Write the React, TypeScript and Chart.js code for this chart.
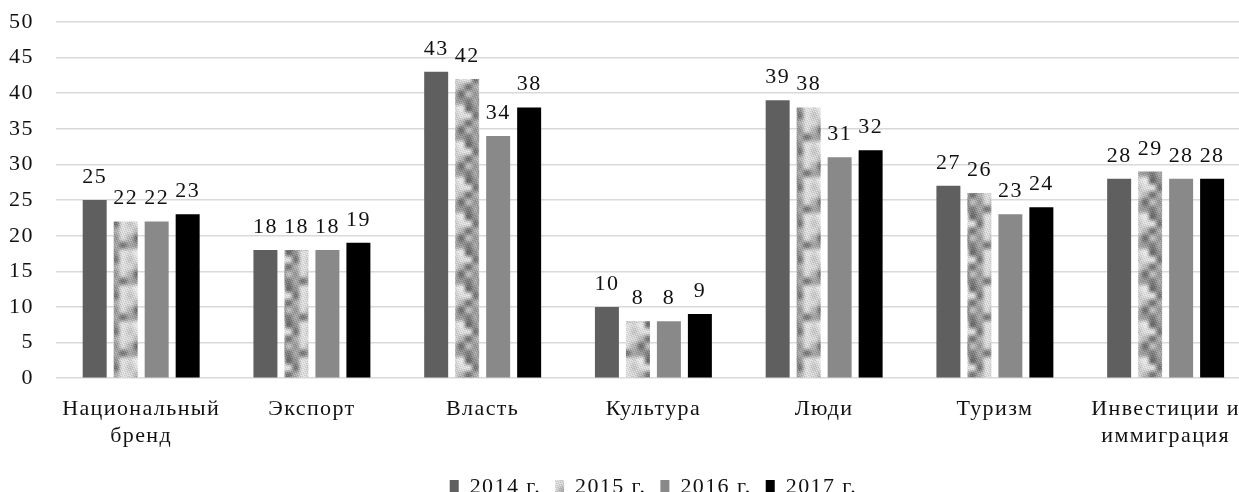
import React, { useEffect, useRef } from "react";
import { Chart, registerables } from "chart.js";

Chart.register(...registerables);

const categories: (string | string[])[] = [
  ["Национальный", "бренд"],
  "Экспорт",
  "Власть",
  "Культура",
  "Люди",
  "Туризм",
  ["Инвестиции и", "иммиграция"],
];
const seriesNames = ["2014 г.", "2015 г.", "2016 г.", "2017 г."];
const values2014 = [25, 18, 43, 10, 39, 27, 28];
const values2015 = [22, 18, 42, 8, 38, 26, 29];
const values2016 = [22, 18, 34, 8, 31, 23, 28];
const values2017 = [23, 19, 38, 9, 32, 24, 28];
const yTicks = [0, 5, 10, 15, 20, 25, 30, 35, 40, 45, 50];

const FONT = "'Liberation Serif', 'Times New Roman', serif";
const TEXT = "#111111";
const SPACING = "1.4px";

function makeTexture(): CanvasPattern | string {
  const size = 36;
  const c = document.createElement("canvas");
  c.width = size;
  c.height = size;
  const ctx = c.getContext("2d");
  if (!ctx) return "#bdbdbd";
  const cells = 5;
  const h = (x: number, y: number) => {
    const xx = ((x % cells) + cells) % cells;
    const yy = ((y % cells) + cells) % cells;
    const s = Math.sin(xx * 127.1 + yy * 311.7) * 43758.5453;
    return s - Math.floor(s);
  };
  const img = ctx.createImageData(size, size);
  for (let y = 0; y < size; y++) {
    for (let x = 0; x < size; x++) {
      const fx = (x / size) * cells;
      const fy = (y / size) * cells;
      const x0 = Math.floor(fx);
      const y0 = Math.floor(fy);
      const tx = fx - x0;
      const ty = fy - y0;
      const sx = tx * tx * (3 - 2 * tx);
      const sy = ty * ty * (3 - 2 * ty);
      const a = h(x0, y0) * (1 - sx) + h(x0 + 1, y0) * sx;
      const b = h(x0, y0 + 1) * (1 - sx) + h(x0 + 1, y0 + 1) * sx;
      let v = a * (1 - sy) + b * sy;
      const fine = Math.sin(x * 1.3 + y * 2.1) * Math.cos(x * 2.2 - y * 0.9);
      v = v * 0.75 + (fine * 0.5 + 0.5) * 0.25;
      v = Math.min(1, Math.max(0, (v - 0.5) * 1.6 + 0.55));
      const g = Math.round(105 + v * 130);
      const i = (y * size + x) * 4;
      img.data[i] = g;
      img.data[i + 1] = g;
      img.data[i + 2] = g;
      img.data[i + 3] = 255;
    }
  }
  ctx.putImageData(img, 0, 0);
  const p = ctx.createPattern(c, "repeat");
  return p || "#bdbdbd";
}

const spacingPlugin = {
  id: "spacing",
  beforeUpdate(chart: any) {
    (chart.ctx as any).letterSpacing = SPACING;
  },
  beforeLayout(chart: any) {
    (chart.ctx as any).letterSpacing = SPACING;
  },
  beforeDraw(chart: any) {
    (chart.ctx as any).letterSpacing = SPACING;
  },
};

const valueLabels = {
  id: "valueLabels",
  afterDatasetsDraw(chart: any) {
    const ctx = chart.ctx;
    ctx.save();
    ctx.font = `22px ${FONT}`;
    ctx.fillStyle = TEXT;
    ctx.textAlign = "center";
    ctx.textBaseline = "alphabetic";
    chart.data.datasets.forEach((ds: any, di: number) => {
      const meta = chart.getDatasetMeta(di);
      meta.data.forEach((bar: any, i: number) => {
        ctx.fillText(String(ds.data[i]), bar.x, bar.y - 17);
      });
    });
    ctx.restore();
  },
};

export default function App() {
  const ref = useRef<HTMLCanvasElement>(null);
  useEffect(() => {
    if (!ref.current) return;
    const texture = makeTexture();
    const colors = ["#5f5f5f", texture, "#898989", "#000000"];
    const all = [values2014, values2015, values2016, values2017];
    const chart = new Chart(ref.current, {
      type: "bar",
      data: {
        labels: categories,
        datasets: all.map((d, i) => ({
          label: seriesNames[i],
          data: d,
          backgroundColor: colors[i] as any,
          borderWidth: 0,
          barPercentage: 0.774,
          categoryPercentage: 0.726,
        })),
      },
      options: {
        animation: false,
        responsive: true,
        maintainAspectRatio: false,
        layout: { autoPadding: false, padding: { left: 9, right: 0, top: 22, bottom: 0 } },
        scales: {
          x: {
            grid: { display: false, drawTicks: false },
            border: { display: false },
            ticks: {
              color: TEXT,
              font: { family: FONT, size: 22, lineHeight: 1.2 },
              padding: 18,
              maxRotation: 0,
              autoSkip: false,
            },
            afterFit: (scale: any) => {
              scale.height -= 5;
              scale.paddingLeft = 0;
              scale.paddingRight = 0;
            },
          },
          y: {
            min: 0,
            max: 50,
            afterBuildTicks: (scale: any) => {
              scale.ticks = yTicks.map((v) => ({ value: v }));
            },
            afterFit: (scale: any) => {
              scale.width -= 22;
              scale.paddingTop = 0;
              scale.paddingBottom = 0;
            },
            grid: { color: "#d9d9d9", lineWidth: 1.5, drawTicks: false },
            border: { display: false },
            ticks: {
              color: TEXT,
              font: { family: FONT, size: 22 },
              padding: 22,
            },
          },
        },
        plugins: {
          legend: {
            position: "bottom",
            fullSize: false,
            labels: {
              color: TEXT,
              font: { family: FONT, size: 22 },
              boxWidth: 9,
              boxHeight: 14,
              padding: 14,
            },
          },
          tooltip: { enabled: false },
        },
      },
      plugins: [spacingPlugin, valueLabels],
    });
    return () => chart.destroy();
  }, []);
  return (
    <div style={{ position: "fixed", left: 0, top: 0, width: 1239, height: 492, overflow: "hidden", background: "#fff" }}>
      <div style={{ position: "relative", width: 1251, height: 508 }}>
        <canvas ref={ref} />
      </div>
    </div>
  );
}
